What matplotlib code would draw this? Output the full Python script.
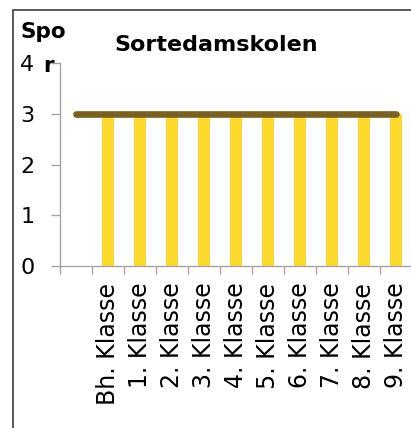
import matplotlib
matplotlib.use("Agg")
import matplotlib.pyplot as plt
from matplotlib.patches import Rectangle
import numpy as np

categories = ["", "Bh. Klasse", "1. Klasse", "2. Klasse", "3. Klasse", "4. Klasse",
              "5. Klasse", "6. Klasse", "7. Klasse", "8. Klasse", "9. Klasse"]
bar_values = [np.nan, 3, 3, 3, 3, 3, 3, 3, 3, 3, 3]
line_values = [3, 3, 3, 3, 3, 3, 3, 3, 3, 3, 3]
y_ticks = [0, 1, 2, 3, 4]

plt.rcParams['font.family'] = ['DejaVu Sans']

W, H = 411, 428
fig = plt.figure(figsize=(W / 100, H / 100), dpi=100)

ax_left, ax_right, ax_top, ax_bot = 60, 412, 63.3, 266
ax = fig.add_axes([ax_left / W, 1 - ax_bot / H, (ax_right - ax_left) / W, (ax_bot - ax_top) / H])

x = np.arange(len(categories))
ax.bar(x, bar_values, width=0.4, color="#FFD82E", zorder=2)
ax.plot(x, line_values, color="#776222", linewidth=4.8, solid_capstyle="round", zorder=3)

ax.set_xlim(-0.5, len(categories) - 0.5)
ax.set_ylim(0, 4)
ax.set_yticks(y_ticks)
ax.set_xticks(x)
ax.set_xticklabels(categories, rotation=90, fontsize=17)
ax.set_xticks(np.arange(len(categories) + 1) - 0.5, minor=True)
ax.tick_params(axis="x", which="major", length=0, pad=12)
ax.tick_params(axis="x", which="minor", length=5.8, color="#a6a6a6", width=1)
ax.tick_params(axis="y", length=6.5, color="#a6a6a6", width=1, pad=12, labelsize=16)

for s in ["top", "right"]:
    ax.spines[s].set_visible(False)
for s in ["left", "bottom"]:
    ax.spines[s].set_color("#a6a6a6")
    ax.spines[s].set_linewidth(1)

fig.text(216 / W, 1 - 51 / H, "Sortedamskolen", ha="center", va="baseline",
         fontsize=16, fontweight="bold")
fig.text(20 / W, 1 - 38 / H, "Spo", ha="left", va="baseline", fontsize=15.5, fontweight="bold")
fig.text(43 / W, 1 - 72 / H, "r", ha="left", va="baseline", fontsize=15.5, fontweight="bold")

fig.patches.append(Rectangle((13 / W, -0.1), 1.2, 1.1 - 10 / H, transform=fig.transFigure,
                             fill=False, edgecolor="#404040", linewidth=1.2))

fig.savefig("out.png", dpi=100)
